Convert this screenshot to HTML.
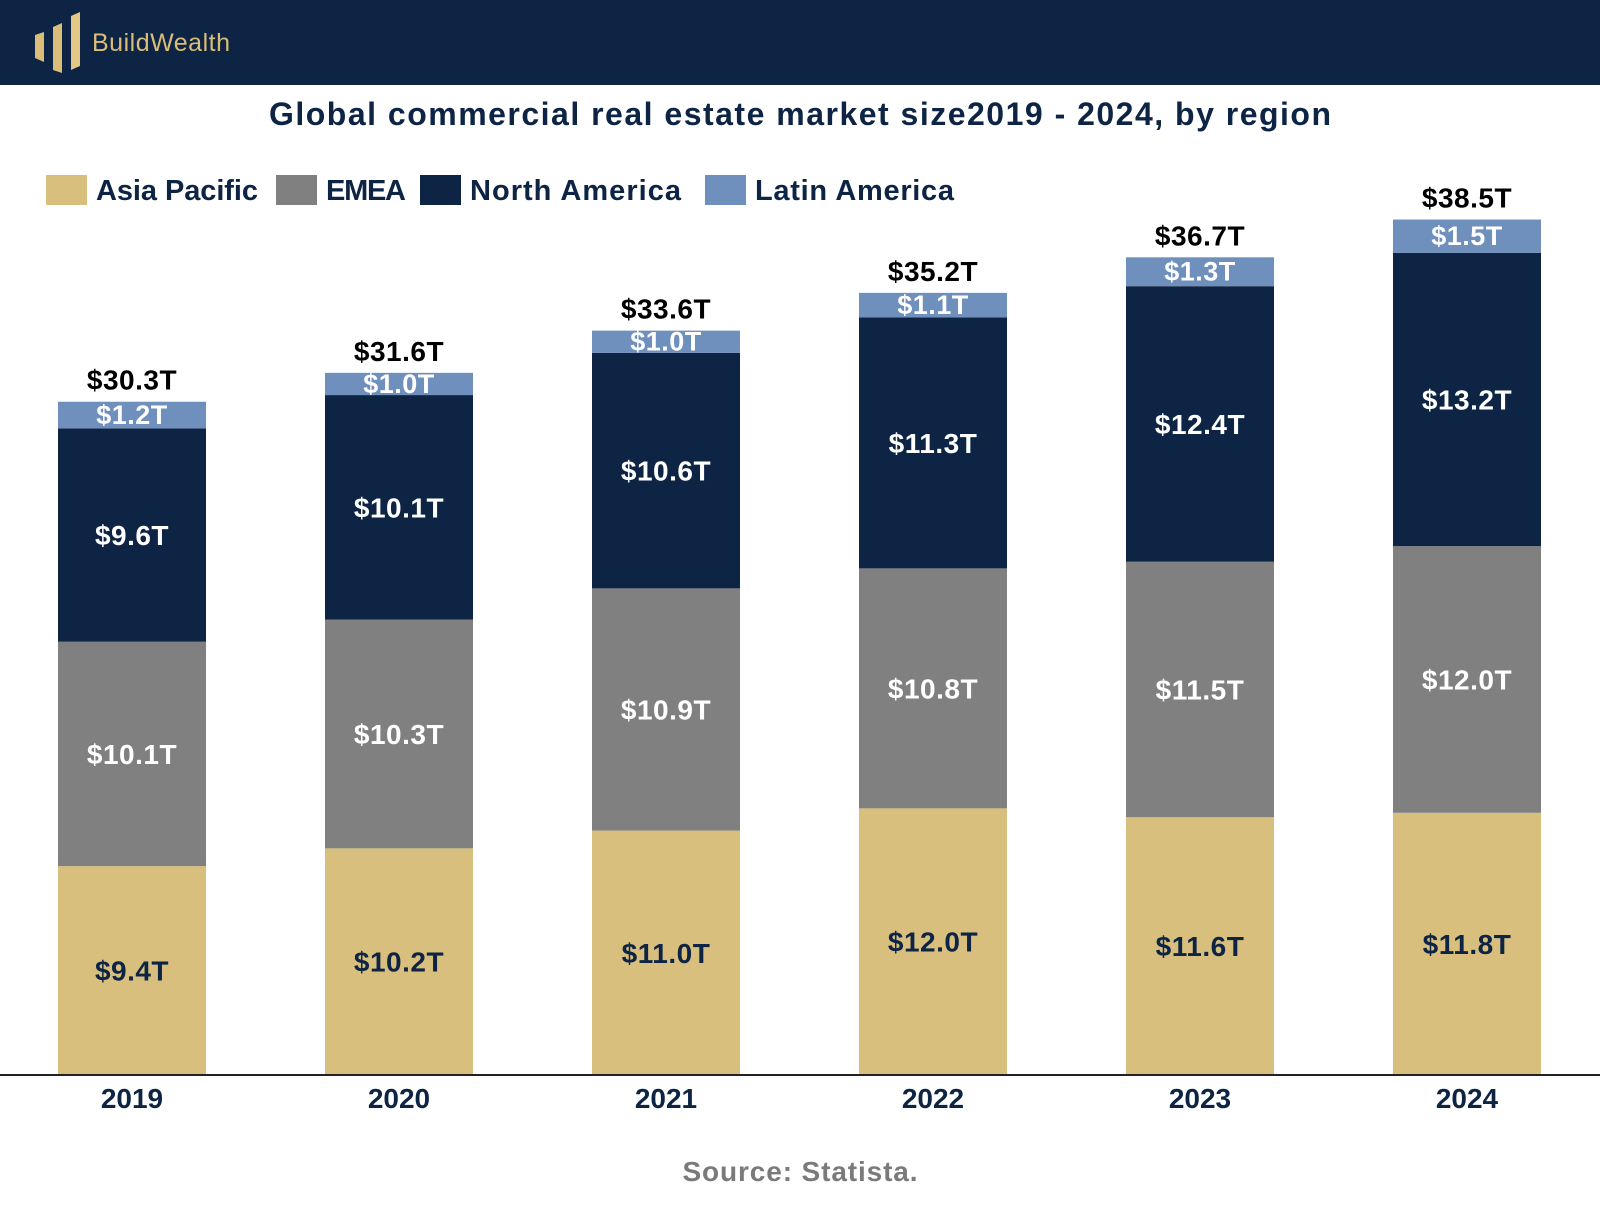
<!DOCTYPE html>
<html><head><meta charset="utf-8"><style>
body{margin:0;width:1600px;height:1200px;background:#fff;overflow:hidden;font-family:"Liberation Sans",sans-serif}
</style></head><body>
<svg id="chart" width="1600" height="1200" xmlns="http://www.w3.org/2000/svg">
<rect x="0" y="0" width="1600" height="85" fill="#0d2444"/>
<g>
<polygon points="35,35 44,32 44,62 35,58" fill="#d9bd78"/>
<polygon points="53,27 62,23 62,73 53,70" fill="#d9bd78"/>
<polygon points="71,16 80,12 80,66 71,70" fill="#e3c887"/>
<text x="92" y="51" font-size="25" fill="#d9bd78" textLength="138">BuildWealth</text>
</g>
<text x="800" y="125" text-anchor="middle" font-size="32" font-weight="bold" fill="#0d2444" textLength="1062" lengthAdjust="spacing">Global commercial real estate market size2019 - 2024, by region</text>
<g id="legend"></g>
<g id="bars"></g>
<line x1="0" y1="1075" x2="1600" y2="1075" stroke="#222" stroke-width="2"/>
<text x="800" y="1181" text-anchor="middle" font-size="28" font-weight="bold" fill="#7a7a7a" textLength="235" lengthAdjust="spacing">Source: Statista.</text>
</svg>
<script>
const years = ["2019","2020","2021","2022","2023","2024"];
const asiaPacific = [9.4,10.2,11.0,12.0,11.6,11.8];
const emea = [10.1,10.3,10.9,10.8,11.5,12.0];
const northAmerica = [9.6,10.1,10.6,11.3,12.4,13.2];
const latinAmerica = [1.2,1.0,1.0,1.1,1.3,1.5];
const totals = ["$30.3T","$31.6T","$33.6T","$35.2T","$36.7T","$38.5T"];
const seriesNames = ["Asia Pacific","EMEA","North America","Latin America"];

const NS="http://www.w3.org/2000/svg";
const colors=["#d8bf7e","#808080","#0d2444","#6f8fbd"];
const textCols=["#0d2444","#fff","#fff","#fff"];
const baseY=1075, pxPerT=22.22, barW=148;
const xPos=i=>58+i*267;
const yPos=v=>baseY-v*pxPerT;
function mk(tag,attrs,parent){const e=document.createElementNS(NS,tag);for(const k in attrs)e.setAttribute(k,attrs[k]);parent.appendChild(e);return e;}
const bars=document.getElementById('bars');
const series=[asiaPacific,emea,northAmerica,latinAmerica];
years.forEach((yr,i)=>{
  let cum=0;
  series.forEach((s,j)=>{
    const v=s[i];
    const y0=yPos(cum), y1=yPos(cum+v);
    const r=mk('rect',{x:xPos(i),y:y1,width:barW,height:y0-y1,fill:colors[j]},bars);
    
    
    const t=mk('text',{x:xPos(i)+barW/2,y:(y0+y1)/2+(j==3?9:10),'text-anchor':'middle','font-size':j==3?27:28,'font-weight':'bold',fill:textCols[j],'letter-spacing':'0.5'},bars);
    t.textContent='$'+v.toFixed(1)+'T';
    
    
    cum+=v;
  });
  const tt=mk('text',{x:xPos(i)+barW/2,y:yPos(cum)-12,'text-anchor':'middle','font-size':28,'font-weight':'bold',fill:'#000','letter-spacing':'0.5'},bars);
  tt.textContent=totals[i];
  
  
  const xl=mk('text',{x:xPos(i)+barW/2,y:1108,'text-anchor':'middle','font-size':28,'font-weight':'bold',fill:'#0d2444'},bars);
  xl.textContent=yr;
  
  
});
const lg=document.getElementById('legend');
const lx=[46,276,420,705];
const lw=[162,80,211,199];
seriesNames.forEach((n,j)=>{
  const r=mk('rect',{x:lx[j],y:175,width:41,height:30,fill:colors[j]},lg);
  
  
  const t=mk('text',{x:lx[j]+50,y:200,'font-size':29,fill:'#0d2444','font-weight':'bold',textLength:lw[j],lengthAdjust:'spacing'},lg);
  t.textContent=n;
  
  
});
</script>
</body></html>
